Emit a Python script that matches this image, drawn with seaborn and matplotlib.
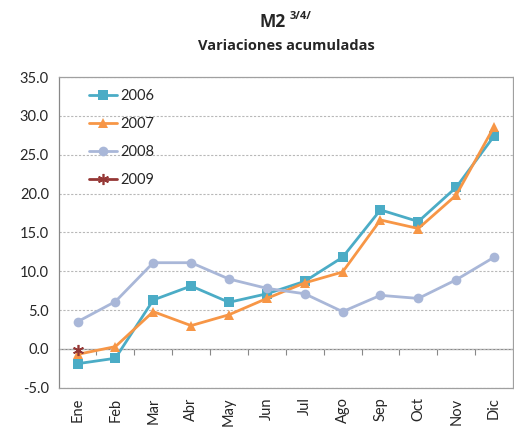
import matplotlib
matplotlib.use("Agg")
import matplotlib.pyplot as plt
import seaborn as sns
import pandas as pd
import numpy as np

months = ["Ene", "Feb", "Mar", "Abr", "May", "Jun", "Jul", "Ago", "Sep", "Oct", "Nov", "Dic"]
y2006 = [-1.9, -1.2, 6.3, 8.1, 6.0, 7.1, 8.7, 11.8, 17.9, 16.4, 20.8, 27.4]
y2007 = [-0.7, 0.3, 4.8, 3.0, 4.4, 6.5, 8.5, 9.9, 16.6, 15.5, 19.8, 28.6]
y2008 = [3.5, 6.1, 11.1, 11.1, 9.0, 7.8, 7.1, 4.8, 6.9, 6.5, 8.9, 11.8]
y2009 = [-0.1]
yticks = [-5.0, 0.0, 5.0, 10.0, 15.0, 20.0, 25.0, 30.0, 35.0]

sns.set_style("white")
plt.rcParams["font.family"] = ["Lato", "DejaVu Sans"]

fig = plt.figure(figsize=(5.14, 4.28), dpi=100)
ax = fig.add_axes([0.114, 0.094, 0.884, 0.726])

series = [
    ("2006", y2006, "#4BACC6", "s", 6.5, 0),
    ("2007", y2007, "#F79646", "^", 7, 0),
    ("2008", y2008, "#A9B7D8", "o", 7, 0),
    ("2009", y2009, "#953735", (6, 2, 0), 8, 1.2),
]
for name, vals, col, mk, ms, mew in series:
    df = pd.DataFrame({"x": np.arange(len(vals)), "y": vals})
    sns.lineplot(data=df, x="x", y="y", ax=ax, color=col, marker=mk,
                 markersize=ms, markeredgewidth=mew, markeredgecolor=col,
                 linewidth=2.0, label=name)

ax.set_xlim(-0.5, 11.5)
ax.set_ylim(-5, 35)
ax.set_yticks(yticks)
ax.set_yticklabels([f"{v:.1f}" for v in yticks], fontsize=10.5)
ax.set_xticks(range(len(months)))
ax.set_xticklabels(months, rotation=90, fontsize=10.5)
ax.tick_params(axis="x", length=0, pad=7)
ax.tick_params(axis="y", length=4, width=0.8, color="#888888", direction="out", pad=3)
ax.set_xlabel("")
ax.set_ylabel("")
for s in ax.spines.values():
    s.set_color("#A0A0A0")
    s.set_linewidth(0.9)
ax.spines["left"].set_color("#888888")
ax.yaxis.grid(True, linestyle=(0, (2, 1.5)), color="#B8B8B8", linewidth=0.8)
ax.set_axisbelow(True)

# zero line with boundary ticks
sec = ax.secondary_xaxis(5 / 40)
sec.set_xticks(np.arange(0.5, 11, 1.0))
sec.set_xticklabels([])
sec.tick_params(axis="x", length=4, width=0.8, color="#888888", direction="out")
sec.spines["bottom"].set_color("#888888")
sec.spines["bottom"].set_linewidth(0.9)

leg = ax.legend(loc="upper left", bbox_to_anchor=(0.055, 0.98), frameon=False,
                fontsize=10.5, handlelength=1.9, handletextpad=0.2,
                labelspacing=0.95, borderaxespad=0)

tfont = ["Open Sans", "DejaVu Sans"]
fig.text(0.556, 0.949, "M2", ha="right", va="center", family=tfont,
         fontsize=12.5, fontweight="bold")
fig.text(0.564, 0.962, "3/4/", ha="left", va="center", family=tfont,
         fontsize=8, fontweight="bold")
fig.text(0.557, 0.893, "Variaciones acumuladas", ha="center", va="center",
         family=tfont, fontsize=10.5, fontweight="bold")

fig.savefig("out.png", dpi=100)
